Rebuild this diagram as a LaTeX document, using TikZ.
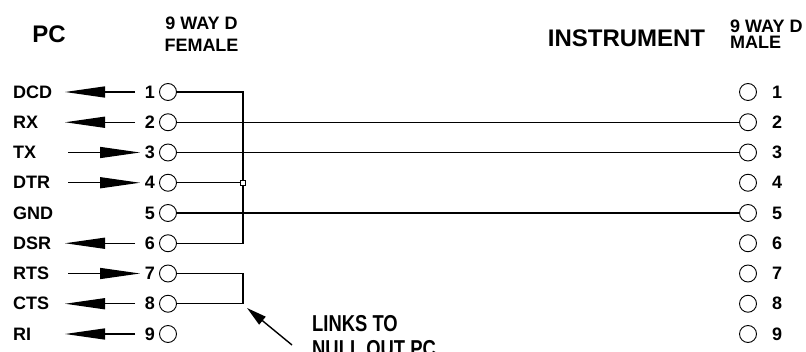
\documentclass[tikz,border=0pt]{standalone}
\usepackage{fontspec}
\setmainfont{Liberation Sans}
\newfontfamily\narrowfont{Liberation Sans}[FakeStretch=0.8]
\usetikzlibrary{arrows.meta}
\begin{document}
\begin{tikzpicture}[x=1pt,y=-1pt,
  pin/.style={circle,draw,line width=0.9pt,minimum size=17pt,inner sep=0pt},
  lbl/.style={font=\fontsize{18}{18}\selectfont\bfseries,inner sep=0pt},
  head/.style={font=\fontsize{24}{24}\selectfont\bfseries,inner sep=0pt},
  note/.style={font=\narrowfont\fontsize{23}{23}\selectfont\bfseries,inner sep=0pt,anchor=west},
  wire/.style={line width=1.3pt},
  sig/.style={line width=1.3pt,-{Triangle[length=40pt,width=11pt]}},
  junc/.style={draw,line width=0.8pt,minimum size=5pt,inner sep=0pt},
  pointer/.style={line width=1.4pt,-{Triangle[length=20pt,width=10pt]}}
]
\useasboundingbox (0,0) rectangle (806,352);
% headers
\node[head] (pc) at (49,34) {PC};
\node[head] (inst) at (626.5,38.5) {INSTRUMENT};
\node[lbl] (fw) at (201.5,23.5) {9 WAY D};
\node[lbl] (fe) at (201.5,45.5) {FEMALE};
\node[lbl,anchor=west] (mw) at (730,26) {9 WAY D};
\node[lbl,anchor=west] (ma) at (730,42) {MALE};
% rows
\foreach \k/\nm in {1/DCD,2/RX,3/TX,4/DTR,5/GND,6/DSR,7/RTS,8/CTS,9/RI}{
  \pgfmathsetmacro{\yy}{92+(\k-1)*30.25}
  \node[lbl,anchor=west] (s\k) at (13,\yy) {\nm};
  \node[lbl,anchor=east] (n\k) at (155,\yy) {\k};
  \node[pin] (lp\k) at (168,\yy) {};
  \node[pin] (rp\k) at (748,\yy) {};
  \node[lbl,anchor=west] (m\k) at (772,\yy) {\k};
}
% signal arrows
\foreach \k in {1,2,6,8,9}{
  \coordinate (as\k) at (135,{92+(\k-1)*30.25});
  \coordinate (ae\k) at (65,{92+(\k-1)*30.25});
  \draw[sig] (as\k) -- (ae\k);
}
\foreach \k in {3,4,7}{
  \coordinate (as\k) at (68,{92+(\k-1)*30.25});
  \coordinate (ae\k) at (140,{92+(\k-1)*30.25});
  \draw[sig] (as\k) -- (ae\k);
}
% straight-through wires
\foreach \k in {2,3,5}{
  \draw[wire] (lp\k.east) -- (rp\k.west);
}
% DCD/DTR/DSR link
\coordinate (c1) at (243,92);
\coordinate (c6) at (243,{92+5*30.25});
\node[junc] (jn) at (243,{92+3*30.25}) {};
\draw[wire] (lp1.east) -- (c1) -- (jn.north);
\draw[wire] (jn.south) -- (c6) -- (lp6.east);
\draw[wire] (lp4.east) -- (jn.west);
% RTS/CTS link
\coordinate (c7) at (243,{92+6*30.25});
\coordinate (c8) at (243,{92+7*30.25});
\draw[wire] (lp7.east) -- (c7) -- (c8) -- (lp8.east);
% pointer
\coordinate (pt) at (292,345);
\coordinate (ph) at (247,308);
\draw[pointer] (pt) -- (ph);
\node[note] (l1) at (312,323.5) {LINKS TO};
\node[note] (l2) at (312,348.5) {NULL OUT PC};
\end{tikzpicture}
\end{document}
